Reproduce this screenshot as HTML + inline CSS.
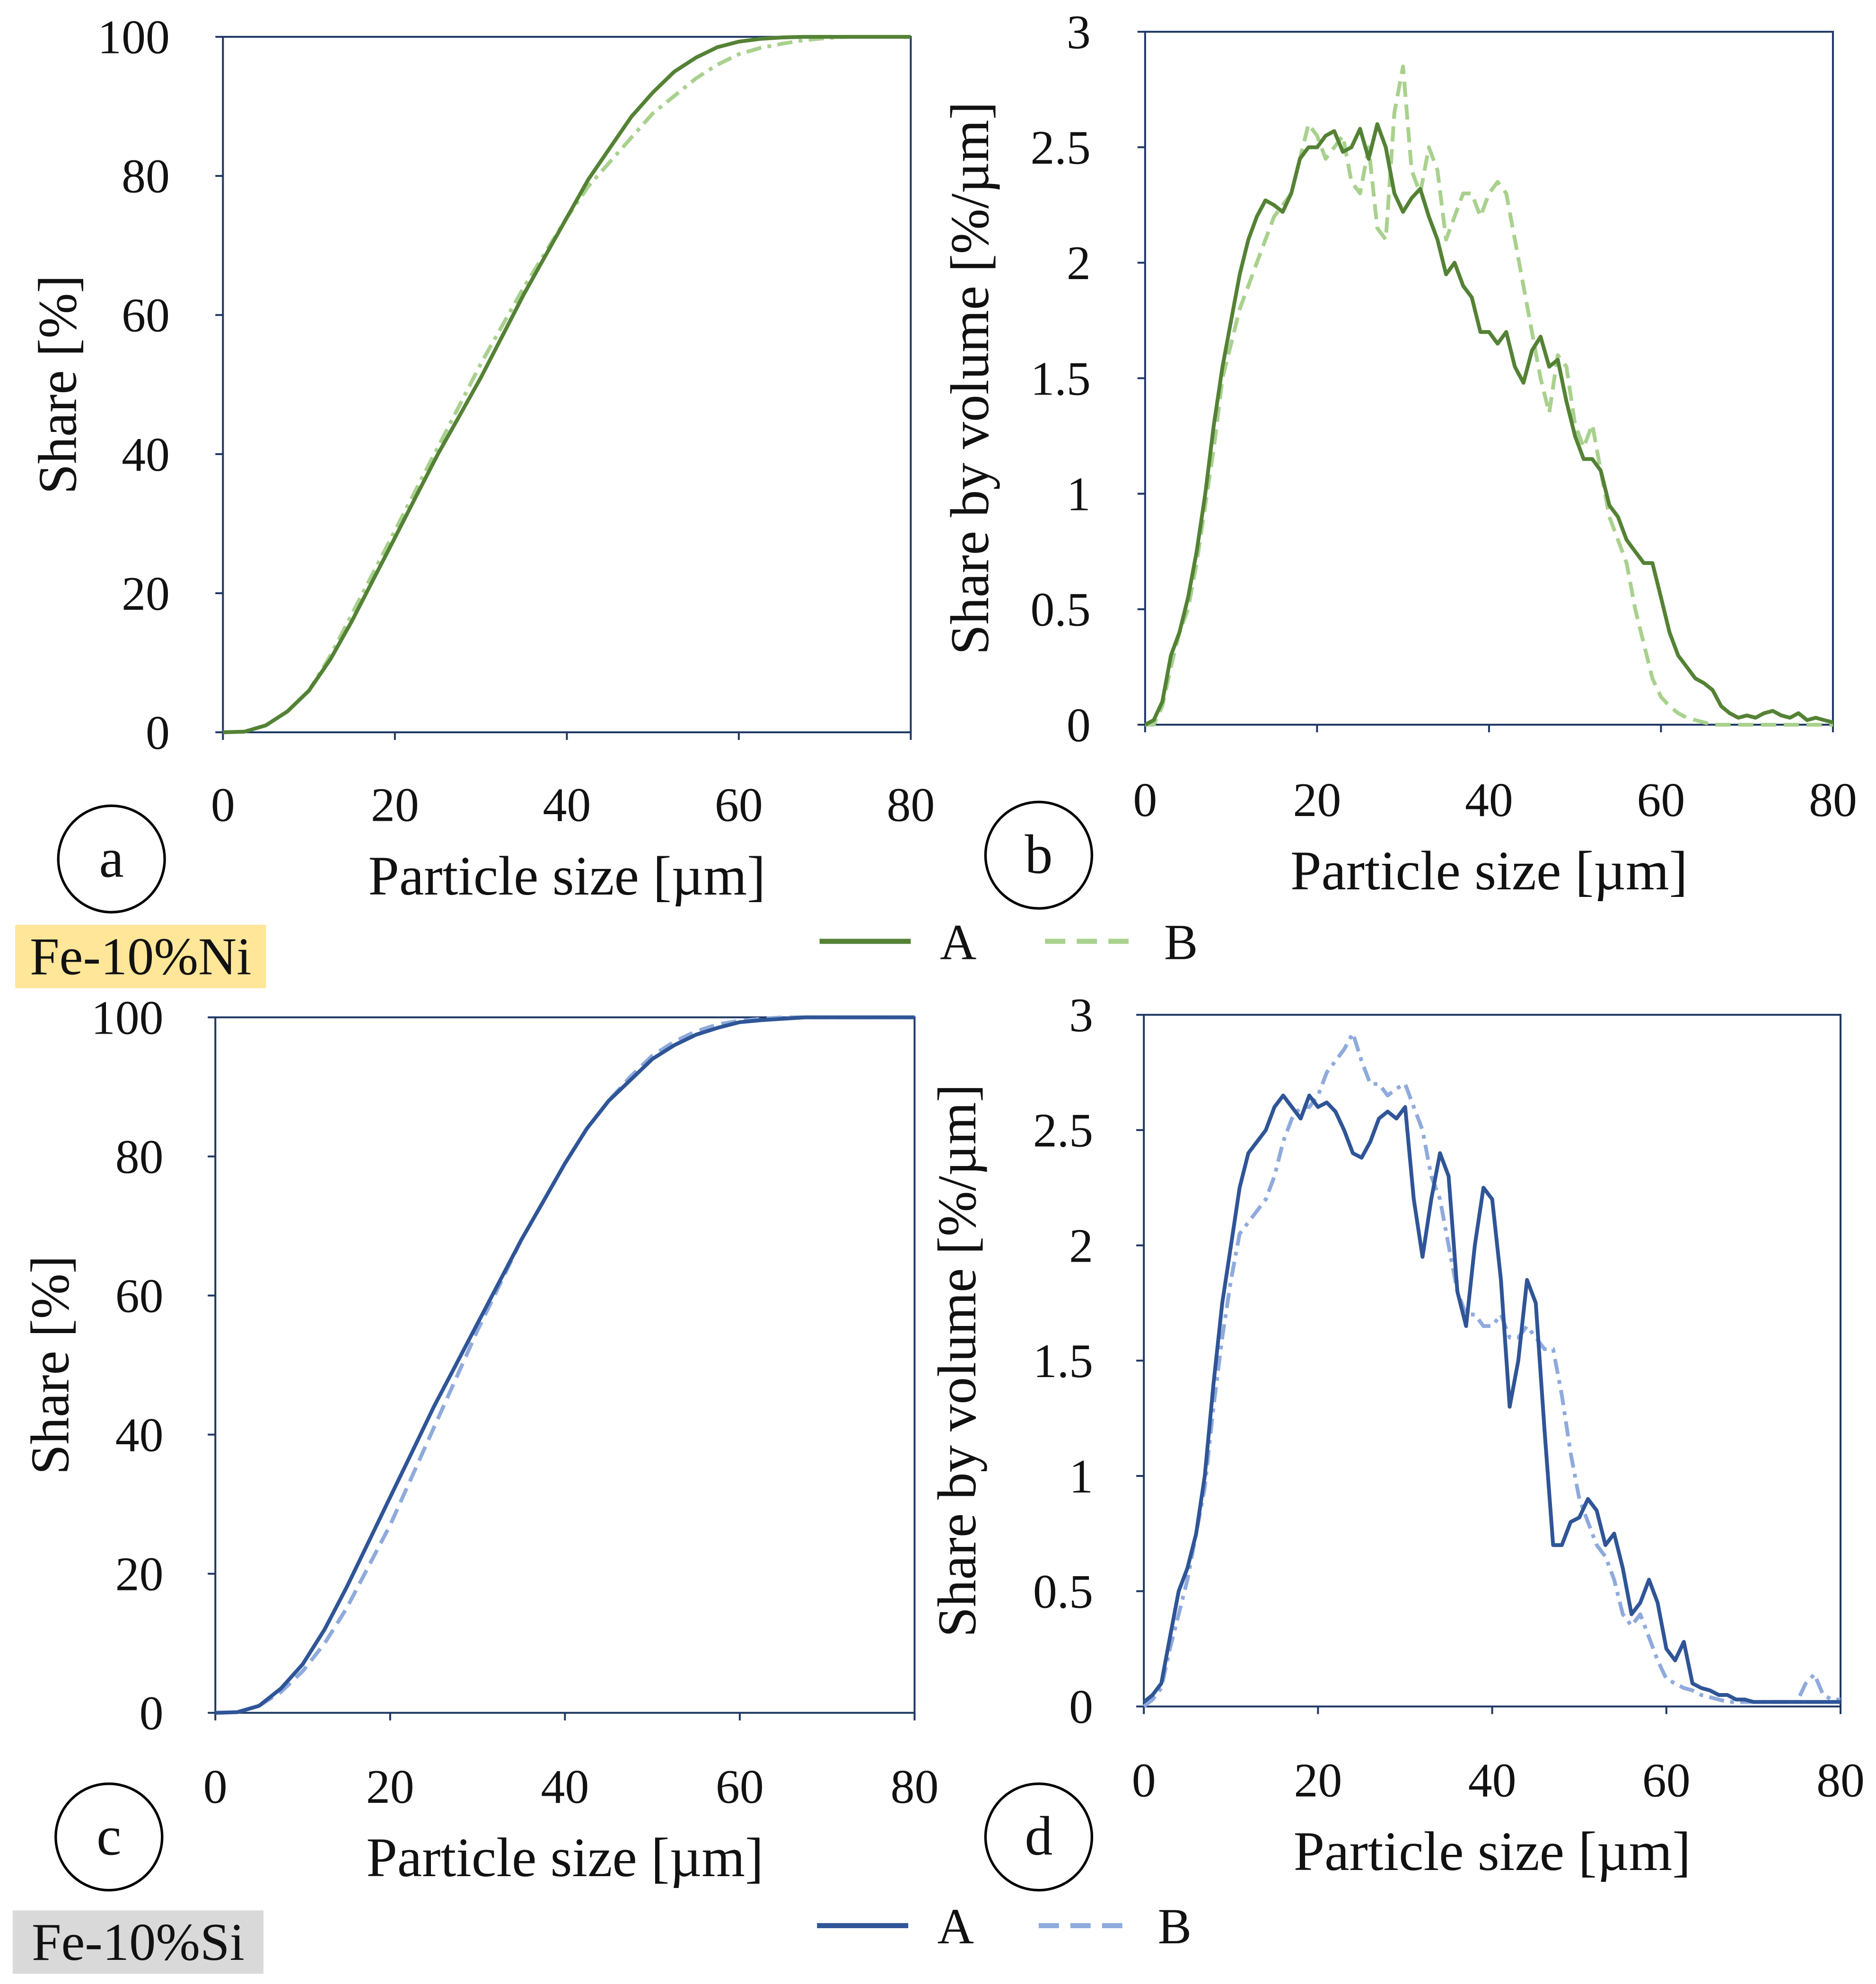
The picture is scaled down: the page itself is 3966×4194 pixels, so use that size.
<!DOCTYPE html>
<html><head><meta charset="utf-8"><style>
html,body{margin:0;padding:0;background:#fff}
svg{display:block}
text{font-family:"Liberation Serif",serif;fill:#111}
</style></head><body>
<svg id="s" width="3966" height="4194" viewBox="0 0 1481 1566" xmlns="http://www.w3.org/2000/svg"></svg>
<script>
const xTicks=[0,20,40,60,80];
const cumTicks=[0,20,40,60,80,100];
const volTicks=[0,0.5,1,1.5,2,2.5,3];
const volTickLabels=["0","0.5","1","1.5","2","2.5","3"];
const cumX=[0,2.5,5,7.5,10,12.5,15,17.5,20,22.5,25,27.5,30,32.5,35,37.5,40,42.5,45,47.5,50,52.5,55,57.5,60,62.5,65,67.5,70,72.5,75,77.5,80];
const aA=[0,0.1,1,3,6,10.5,16,22,28,34,40,45.5,51,57,63,68.5,74,79.5,84,88.5,92,95,97,98.5,99.3,99.7,99.9,100,100,100,100,100,100];
const aB=[0,0.1,1,3,6,11,17,23,29,35,41,47,53,58.5,64,69,74,78.5,82,85.5,89,91.5,94,96,97.5,98.4,99,99.5,99.8,100,100,100,100];
const cA=[0,0.1,1,3.5,7,12,18,24.5,31,37.5,44,50,56,62,68,73.5,79,84,88,91,94,96,97.5,98.5,99.3,99.6,99.8,100,100,100,100,100,100];
const cB=[0,0.1,1,3,6,10,15,21,27,34,41,48,55,61.5,68,73.5,79,84,88,91.5,94.5,96.5,98,99,99.5,99.8,100,100,100,100,100,100,100];
const volX=[...Array(81).keys()];
const bA=[0,0.02,0.1,0.3,0.4,0.55,0.75,1.0,1.3,1.55,1.75,1.95,2.1,2.2,2.27,2.25,2.22,2.3,2.45,2.5,2.5,2.55,2.57,2.48,2.5,2.58,2.45,2.6,2.5,2.3,2.22,2.28,2.32,2.2,2.1,1.95,2.0,1.9,1.85,1.7,1.7,1.65,1.7,1.55,1.48,1.62,1.68,1.55,1.58,1.4,1.25,1.15,1.15,1.1,0.95,0.9,0.8,0.75,0.7,0.7,0.55,0.4,0.3,0.25,0.2,0.18,0.15,0.08,0.05,0.03,0.04,0.03,0.05,0.06,0.04,0.03,0.05,0.02,0.03,0.02,0.01];
const bB=[0,0,0.08,0.25,0.4,0.5,0.7,0.95,1.2,1.5,1.65,1.8,1.9,2.0,2.1,2.2,2.25,2.3,2.45,2.6,2.55,2.45,2.5,2.55,2.35,2.3,2.5,2.15,2.1,2.65,2.85,2.4,2.3,2.5,2.4,2.1,2.2,2.3,2.3,2.2,2.3,2.35,2.3,2.1,1.9,1.7,1.5,1.35,1.6,1.55,1.3,1.2,1.3,1.1,0.9,0.8,0.7,0.5,0.35,0.2,0.12,0.08,0.05,0.03,0.02,0.01,0,0,0,0,0,0,0,0,0,0,0,0,0,0,0];
const dA=[0.02,0.05,0.1,0.3,0.5,0.6,0.75,1.0,1.4,1.75,2.0,2.25,2.4,2.45,2.5,2.6,2.65,2.6,2.55,2.65,2.6,2.62,2.58,2.5,2.4,2.38,2.45,2.55,2.58,2.55,2.6,2.2,1.95,2.2,2.4,2.3,1.8,1.65,2.0,2.25,2.2,1.85,1.3,1.5,1.85,1.75,1.2,0.7,0.7,0.8,0.82,0.9,0.85,0.7,0.75,0.6,0.4,0.45,0.55,0.45,0.25,0.2,0.28,0.1,0.08,0.07,0.05,0.05,0.03,0.03,0.02,0.02,0.02,0.02,0.02,0.02,0.02,0.02,0.02,0.02,0.02];
const dB=[0,0.03,0.08,0.25,0.4,0.55,0.75,0.95,1.3,1.6,1.85,2.05,2.1,2.15,2.2,2.3,2.45,2.55,2.6,2.6,2.65,2.75,2.8,2.85,2.92,2.8,2.7,2.7,2.65,2.68,2.7,2.6,2.5,2.3,2.2,2.0,1.8,1.7,1.7,1.65,1.65,1.7,1.6,1.6,1.65,1.6,1.55,1.55,1.35,1.1,0.9,0.8,0.7,0.65,0.55,0.4,0.35,0.4,0.3,0.2,0.12,0.1,0.08,0.07,0.05,0.04,0.03,0.02,0.02,0.02,0.02,0.02,0.02,0.02,0.02,0.02,0.1,0.14,0.05,0.03,0.03];

const NS="http://www.w3.org/2000/svg";
const svg=document.getElementById('s');
function mk(tag,attrs,parent){const e=document.createElementNS(NS,tag);for(const k in attrs)e.setAttribute(k,attrs[k]);(parent||svg).appendChild(e);return e;}
function txt(str,x,y,size,anchor,parent,rot){const t=mk('text',{x:x,y:y,'font-size':size,'text-anchor':anchor||'middle'},parent);if(rot)t.setAttribute('transform','rotate(-90 '+x+' '+y+')');t.textContent=str;return t;}

function panel(id,box,ymax,yt,ytl,ylabX,xlabY,ytitle,ytitleX,xtitle,series,letter,circ){
  const g=mk('g',{});
  
  
  const [x0,y0,x1,y1]=box;
  const sx=v=>x0+(x1-x0)*v/80, sy=v=>y1-(y1-y0)*v/ymax;
  const fr=mk('rect',{x:x0,y:y0,width:x1-x0,height:y1-y0,fill:'none',stroke:'#1f3864','stroke-width':1.5},g);
  
  
  xTicks.forEach(v=>{mk('line',{x1:sx(v),x2:sx(v),y1:y1,y2:y1+6,stroke:'#1f3864','stroke-width':1.5},g);
    const t=txt(String(v),sx(v),xlabY,38,'middle',g);
    
    });
  yt.forEach((v,i)=>{mk('line',{x1:x0-6,x2:x0,y1:sy(v),y2:sy(v),stroke:'#1f3864','stroke-width':1.5},g);
    const t=txt(ytl[i],ylabX,sy(v)+13,38,'end',g);
    
    });
  series.forEach(s=>{
    const pts=s.x.map((v,i)=>sx(v).toFixed(1)+','+sy(s.y[i]).toFixed(1)).join(' ');
    const p=mk('polyline',{points:pts,fill:'none',stroke:s.c,'stroke-width':3,'stroke-linejoin':'round'},g);
    if(s.d)p.setAttribute('stroke-dasharray',s.d);
    
    
  });
  const yt2=txt(ytitle,ytitleX,(y0+y1)/2,43,'middle',g,true);
  
  
  const xt=txt(xtitle,(x0+x1)/2,xlabY+58,44,'middle',g);
  
  
  const c=mk('circle',{cx:circ[0],cy:circ[1],r:42,fill:'#fff',stroke:'#000','stroke-width':2},g);
  
  
  const lt=txt(letter,circ[0],circ[1]+14,44,'middle',g);
  
  
}
const cumL=cumTicks.map(String);
panel('a',[176,29,719,578],100,cumTicks,cumL,134,648,'Share [%]',60,'Particle size  [µm]',
 [{x:cumX,y:aB,c:'#a9d18e',d:'12,5,3,5',n:'B'},{x:cumX,y:aA,c:'#548235',n:'A'}],'a',[88,678]);
panel('b',[904,25,1447,572],3,volTicks,volTickLabels,861,644,'Share by volume [%/µm]',780,'Particle size  [µm]',
 [{x:volX,y:bB,c:'#a9d18e',d:'12,6',n:'B'},{x:volX,y:bA,c:'#548235',n:'A'}],'b',[820,675]);
panel('c',[170,803,722,1352],100,cumTicks,cumL,129,1423,'Share [%]',54,'Particle size [µm]',
 [{x:cumX,y:cB,c:'#8faadc',d:'12,6',n:'B'},{x:cumX,y:cA,c:'#2f5597',n:'A'}],'c',[86,1450]);
panel('d',[903,801,1453,1347],3,volTicks,volTickLabels,863,1418,'Share by volume [%/µm]',770,'Particle size [µm]',
 [{x:volX,y:dB,c:'#8faadc',d:'12,5,3,5',n:'B'},{x:volX,y:dA,c:'#2f5597',n:'A'}],'d',[820,1450]);

function tag(label,x,y,w,h,fill,name){
  const r=mk('rect',{x:x,y:y,width:w,height:h,fill:fill});
  
  
  const t=txt(label,x+w/2,y+h/2+14,42,'middle');
  
  
}
tag('Fe-10%Ni',12,730,198,50,'#ffe699','alloy-label-ni');
tag('Fe-10%Si',10,1508,198,50,'#d9d9d9','alloy-label-si');

function legend(y,cA,cB,xA,xB,name){
  const g=mk('g',{});
  
  
  mk('line',{x1:xA,x2:xA+72,y1:y,y2:y,stroke:cA,'stroke-width':4},g);
  const a=txt('A',xA+95,y+14,40,'start',g);
  
  
  mk('line',{x1:xB,x2:xB+72,y1:y,y2:y,stroke:cB,'stroke-width':4,'stroke-dasharray':'16,9'},g);
  const b=txt('B',xB+94,y+14,40,'start',g);
  
  
}
legend(743,'#548235','#a9d18e',647,825,'legend-top');
legend(1520,'#2f5597','#8faadc',645,820,'legend-bottom');
</script>
</body></html>
